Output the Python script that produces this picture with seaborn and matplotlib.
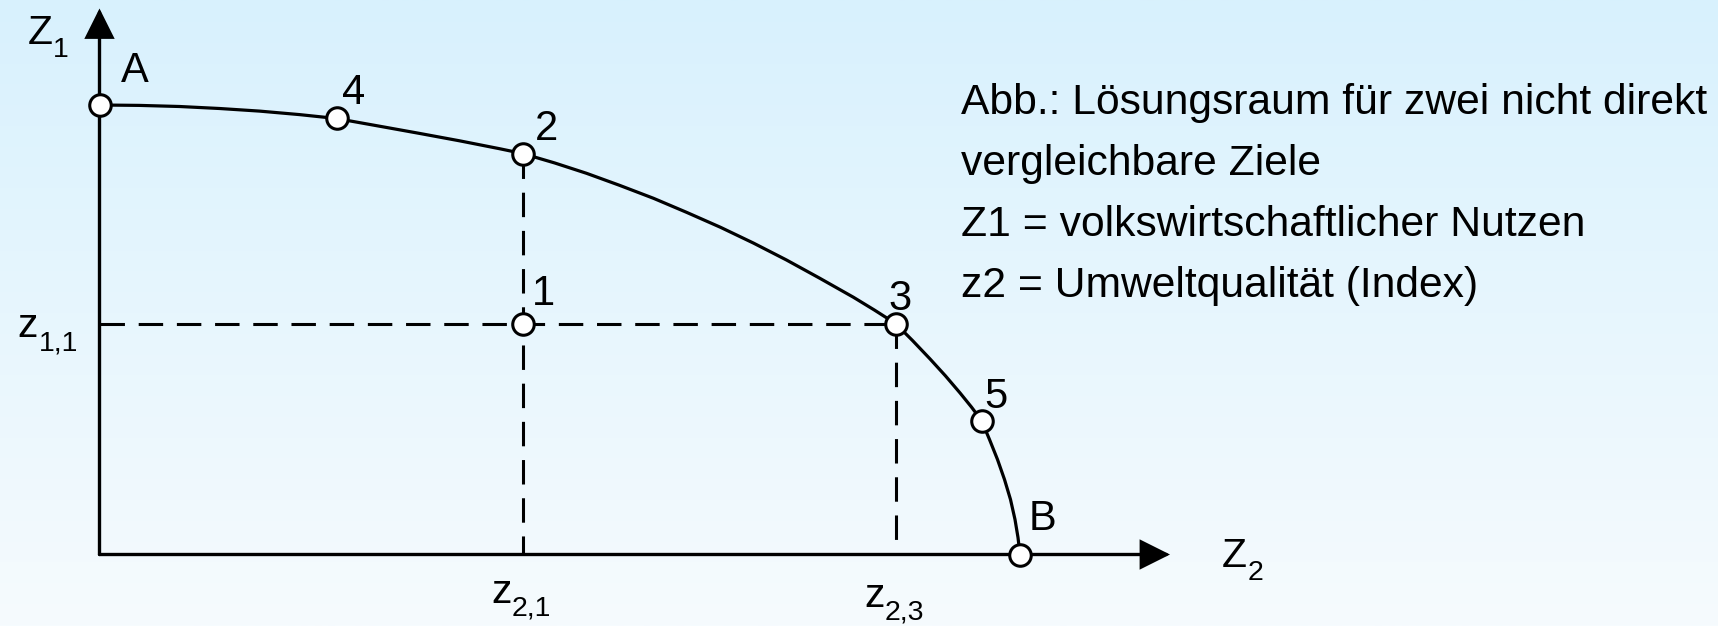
import numpy as np
import matplotlib
matplotlib.use('Agg')
import matplotlib.pyplot as plt
import seaborn as sns
from matplotlib.colors import LinearSegmentedColormap

sns.set_theme(style='white')
plt.rcParams['font.family'] = ['Liberation Sans', 'DejaVu Sans']

# frontier (Loesungsraum boundary): z2 -> z1
curve_z2 = [0.0, 0.4, 0.8, 1.2, 1.6, 2.0, 2.37,
            2.8, 3.2, 3.6, 4.0, 4.23,
            4.55, 4.87, 5.2, 5.54, 5.87, 6.21, 6.54, 6.87, 7.2, 7.54, 7.75, 7.96,
            8.13, 8.305, 8.46, 8.605, 8.72, 8.82,
            8.90, 8.98, 9.05, 9.11, 9.155, 9.185, 9.205]
curve_z1 = [4.495, 4.491, 4.480, 4.460, 4.434, 4.399, 4.36,
            4.283, 4.211, 4.137, 4.058, 4.01,
            3.916, 3.812, 3.692, 3.562, 3.422, 3.272, 3.114, 2.945, 2.764, 2.572, 2.444, 2.31,
            2.14, 1.956, 1.786, 1.616, 1.474, 1.34,
            1.15, 0.95, 0.75, 0.55, 0.35, 0.17, 0.0]

# labelled points
point_names = ['A', '4', '2', '1', '3', '5', 'B']
point_z2 = [0.0, 2.37, 4.23, 4.23, 7.96, 8.82, 9.205]
point_z1 = [4.495, 4.36, 4.01, 2.31, 2.31, 1.34, 0.0]
# label offsets (points) from each marker
label_dx = [15.5, 4.0, 9.0, 7.0, -5.0, 2.0, 6.0]
label_dy = [16.8, 10.4, 9.4, 13.3, 9.7, 9.1, 17.6]

caption = ['Abb.: Lösungsraum für zwei nicht direkt',
           'vergleichbare Ziele',
           'Z1 = volkswirtschaftlicher Nutzen',
           'z2 = Umweltqualität (Index)']

z11 = point_z1[3]
z21 = point_z2[3]
z23 = point_z2[4]
z2_top = point_z1[2]
x_end = 10.705
y_end = 5.46

fig = plt.figure(figsize=(17.18, 6.26), dpi=100)

# background gradient
bg = fig.add_axes([0, 0, 1, 1])
bg.axis('off')
cmap = LinearSegmentedColormap.from_list('bg', ['#d8f1fd', '#f6fbfe'])
bg.imshow(np.linspace(0, 1, 256).reshape(-1, 1), aspect='auto', cmap=cmap,
          extent=[0, 1, 0, 1])

ax = fig.add_axes([0, 0, 1, 1])
ax.patch.set_alpha(0)

# dashed guides
dash = dict(color='black', lw=2.2, dashes=(8, 4.5), dash_capstyle='butt', zorder=2)
ax.plot([0, z23], [z11, z11], **dash)
ax.plot([z21, z21], [z2_top, 0], **dash)
ax.plot([z23, z23], [z11, 0], **dash)

# axes with arrow heads
arrow = dict(arrowstyle='-|>,head_length=0.9,head_width=0.45', lw=2.4, color='black',
             mutation_scale=20, shrinkA=0, shrinkB=0, joinstyle='miter')
ax.annotate('', xy=(x_end, 0), xytext=(0, 0), arrowprops=arrow, zorder=3)
ax.annotate('', xy=(0, y_end), xytext=(0, 0), arrowprops=arrow, zorder=3)

# curve and points
sns.lineplot(x=curve_z2, y=curve_z1, sort=False, color='black', lw=2.3, ax=ax, zorder=4)
sns.scatterplot(x=point_z2, y=point_z1, s=240, color='white', edgecolor='black',
                linewidth=2.2, ax=ax, zorder=5)

for name, x, y, dx, dy in zip(point_names, point_z2, point_z1, label_dx, label_dy):
    ax.annotate(name, (x, y), xytext=(dx, dy), textcoords='offset points',
                ha='left', va='baseline', fontsize=30, color='black')


def sub_label(main, sub, anchor, dx, dy):
    t = ax.annotate(main, anchor, xytext=(dx, dy), textcoords='offset points',
                    ha='left', va='baseline', fontsize=29.5, color='black')
    ax.annotate(sub, xy=(1, 0), xycoords=t, xytext=(0.5, -3.5),
                textcoords='offset points', ha='left', va='baseline',
                fontsize=20.5, color='black')


sub_label('Z', '1', (0, y_end), -51.8, -25.8)
sub_label('Z', '2', (x_end, 0), 37.4, -8.8)
sub_label('z', '1,1', (0, z11), -59, -9.9)
sub_label('z', '2,1', (z21, 0), -22.7, -34.9)
sub_label('z', '2,3', (z23, 0), -22.7, -37.8)

for i, line in enumerate(caption):
    fig.text(961 / 1718, 1 - (114 + 61 * i) / 626, line, ha='left', va='baseline',
             fontsize=30.7, color='black')

ax.set_xlim(-0.995, 16.185)
ax.set_ylim(-0.715, 5.545)
ax.axis('off')

fig.savefig('out.png', dpi=100)
